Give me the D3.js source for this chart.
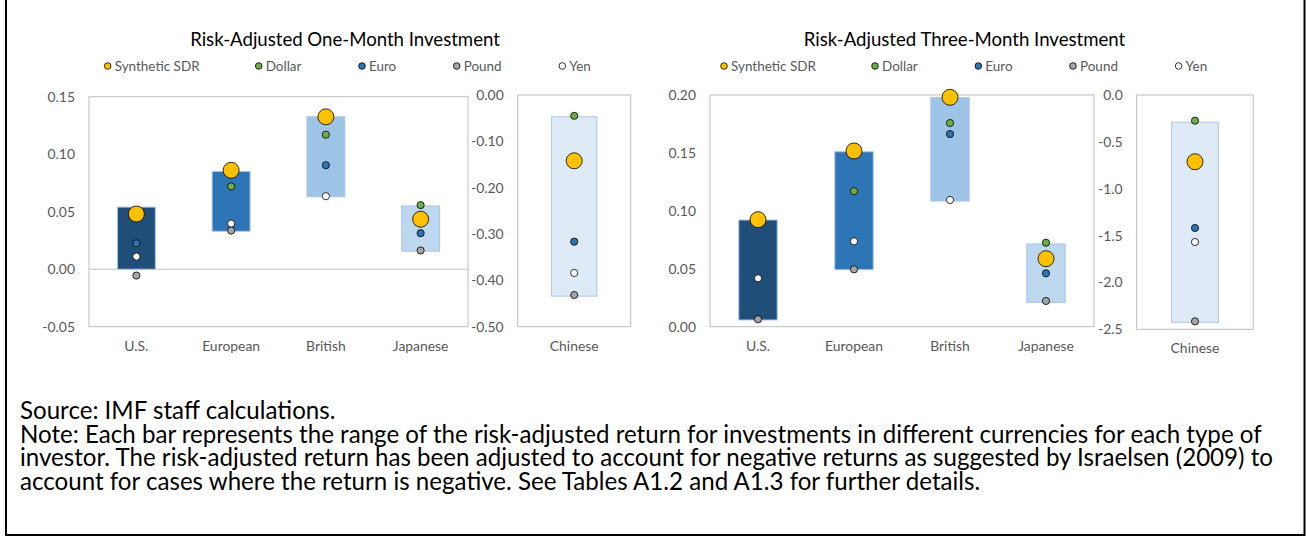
<!DOCTYPE html>
<html>
<head>
<meta charset="utf-8">
<script src="https://cdn.jsdelivr.net/npm/d3@7"></script>
<style>
  body { margin: 0; background: #fff; }
  svg text { font-family: Lato, "Open Sans", sans-serif; }
</style>
</head>
<body>
<div id="chart"></div>
<script>
// categories (investor type)
var mainCats = ["U.S.", "European", "British", "Japanese"];
var sideCat = ["Chinese"];
var seriesNames = ["Synthetic SDR", "Dollar", "Euro", "Pound", "Yen"];

// one-month values: U.S., European, British, Japanese, Chinese
var barHigh1 = [0.054, 0.085, 0.1325, 0.055, -0.047];
var barLow1  = [0.000, 0.033, 0.063, 0.0157, -0.434];
var sdr1     = [0.048, 0.086, 0.1325, 0.0435, -0.142];
var dollar1  = [null, 0.072, 0.117, 0.0557, -0.045];
var euro1    = [0.0226, null, 0.0904, 0.0313, -0.3165];
var pound1   = [-0.0055, 0.0336, null, 0.0163, -0.4316];
var yen1     = [0.011, 0.0397, 0.0635, null, -0.384];

// three-month values
var barHigh3 = [0.0921, 0.151, 0.1977, 0.0714, -0.291];
var barLow3  = [0.0058, 0.0492, 0.1085, 0.021, -2.425];
var sdr3     = [0.0924, 0.1517, 0.198, 0.0587, -0.712];
var dollar3  = [null, 0.117, 0.1758, 0.0725, -0.274];
var euro3    = [null, null, 0.1663, 0.0461, -1.419];
var pound3   = [0.0064, 0.0495, null, 0.0222, -2.415];
var yen3     = [0.0418, 0.0737, 0.1094, null, -1.569];

// tick values
var ticksLeft1 = [-0.05, 0, 0.05, 0.10, 0.15];
var ticksRight1 = [0, -0.1, -0.2, -0.3, -0.4, -0.5];
var ticksLeft3 = [0, 0.05, 0.10, 0.15, 0.20];
var ticksRight3 = [0, -0.5, -1.0, -1.5, -2.0, -2.5];

var titles = ["Risk-Adjusted One-Month Investment", "Risk-Adjusted Three-Month Investment"];
var noteLines = [
  "Source: IMF staff calculations.",
  "Note: Each bar represents the range of the risk-adjusted return for investments in different currencies for each type of",
  "investor. The risk-adjusted return has been adjusted to account for negative returns as suggested by Israelsen (2009) to",
  "account for cases where the return is negative. See Tables A1.2 and A1.3 for further details."
];

var barColors = ["#1F4E79", "#2E75B6", "#9DC3E6", "#BDD7EE", "#DEEBF7"];
var dotColors = ["#FFC000", "#70AD47", "#2E75B6", "#A5A5A5", "#FFFFFF"];
var textGray = "#595959";
var frameGray = "#BFBFBF";
var chartFont = "Lato, 'Open Sans', sans-serif";
var noteFont = "Lato, 'Noto Sans', sans-serif";

var W = 1306, H = 537;
var svg = d3.select("#chart").append("svg")
  .attr("width", W)
  .attr("height", H);

function fmt(p) {
  var f = d3.format(p);
  return function (d) { return f(d).replace("\u2212", "-"); };
}

// fit text to target width by scaling its font size
function fitSize(txt, base, target, family) {
  var t = svg.append("text")
    .style("font-size", base + "px")
    .style("font-family", family)
    .text(txt);
  var w = t.node().getComputedTextLength();
  t.remove();
  return base * target / w;
}

function drawPanel(cfg) {
  var g = svg.append("g");

  // title
  g.append("text")
    .attr("x", cfg.titleX)
    .attr("y", 46)
    .attr("text-anchor", "middle")
    .style("font-size", cfg.titleSize + "px")
    .style("fill", "#000")
    .text(cfg.title);

  // legend
  seriesNames.forEach(function (s, i) {
    var lx = cfg.legendX + cfg.legendOff[i];
    g.append("circle")
      .attr("cx", lx).attr("cy", 66).attr("r", 3.3)
      .attr("fill", dotColors[i]).attr("stroke", "#000").attr("stroke-width", 0.8);
    g.append("text")
      .attr("x", lx + 7).attr("y", 70.5)
      .style("font-size", cfg.legendSize + "px")
      .style("fill", textGray)
      .text(s);
  });

  // main plot
  var x = d3.scaleBand().domain(mainCats).range([cfg.mx0, cfg.mx1]);
  var y = d3.scaleLinear().domain(cfg.mDomain).range([cfg.mBottom, cfg.mTop]);
  // side plot (Chinese)
  var xs = d3.scaleBand().domain(sideCat).range([cfg.sx0, cfg.sx1]);
  var ys = d3.scaleLinear().domain(cfg.sDomain).range([cfg.sBottom, cfg.sTop]);

  [[x, y, cfg.mTicks, cfg.mFmt, cfg.mBottom, mainCats, 0],
   [xs, ys, cfg.sTicks, cfg.sFmt, cfg.sBottom, sideCat, 4]].forEach(function (p) {
    var xx = p[0], yy = p[1], cats = p[5], off = p[6];
    var r = xx.range();

    g.append("rect")
      .attr("x", r[0]).attr("y", yy.range()[1])
      .attr("width", r[1] - r[0]).attr("height", yy.range()[0] - yy.range()[1])
      .attr("fill", "none").attr("stroke", frameGray).attr("stroke-width", 1);

    var ya = g.append("g")
      .attr("transform", "translate(" + r[0] + ",0)")
      .call(d3.axisLeft(yy).tickValues(p[2]).tickFormat(fmt(p[3])).tickSize(0).tickPadding(14));
    ya.select(".domain").remove();
    ya.selectAll("text").style("font-size", cfg.tickSize + "px").style("fill", textGray)
      .style("font-family", chartFont);

    // zero line when zero is inside the domain
    var dm = yy.domain();
    if (Math.min(dm[0], dm[1]) < 0 && Math.max(dm[0], dm[1]) > 0) {
      g.append("line")
        .attr("x1", r[0]).attr("x2", r[1])
        .attr("y1", yy(0)).attr("y2", yy(0))
        .attr("stroke", frameGray).attr("stroke-width", 1);
    }

    var xa = g.append("g")
      .attr("transform", "translate(0," + p[4] + ")")
      .call(d3.axisBottom(xx).tickSize(0).tickPadding(14));
    xa.select(".domain").remove();
    xa.selectAll("text").style("font-size", cfg.tickSize + "px").style("fill", textGray)
      .style("font-family", chartFont);

    var bw = xx.bandwidth() * 0.4;

    // range bars
    cats.forEach(function (c, j) {
      var i = j + off;
      g.append("rect")
        .attr("x", xx(c) + xx.bandwidth() / 2 - bw / 2)
        .attr("y", yy(cfg.hi[i]))
        .attr("width", bw)
        .attr("height", yy(cfg.lo[i]) - yy(cfg.hi[i]))
        .attr("fill", barColors[i])
        .attr("stroke", "#A9C4EB").attr("stroke-width", 1);
    });

    // currency points
    cfg.series.forEach(function (vals, k) {
      cats.forEach(function (c, j) {
        var v = vals[j + off];
        if (v === null) return;
        g.append("circle")
          .attr("cx", xx(c) + xx.bandwidth() / 2)
          .attr("cy", yy(v))
          .attr("r", k === 0 ? 8 : 3.6)
          .attr("fill", dotColors[k])
          .attr("stroke", "#000").attr("stroke-width", 0.8);
      });
    });
  });
}

var titleSize = fitSize(titles[0], 16, 310, chartFont);
var legendSize = fitSize("Synthetic SDR", 13, 85, chartFont);
var tickSize = fitSize("European", 13, 58, chartFont);

var legendOff = [0, 151, 254.3, 349, 454.6];

drawPanel({
  title: titles[0], titleX: 345, titleSize: titleSize,
  legendX: 107.7, legendOff: legendOff, legendSize: legendSize, tickSize: tickSize,
  mx0: 89, mx1: 468, mTop: 96.7, mBottom: 326.7, mDomain: [-0.05, 0.15], mTicks: ticksLeft1, mFmt: ".2f",
  sx0: 517.7, sx1: 630.7, sTop: 95, sBottom: 326.7, sDomain: [-0.5, 0], sTicks: ticksRight1, sFmt: ".2f",
  hi: barHigh1, lo: barLow1,
  series: [sdr1, dollar1, euro1, pound1, yen1]
});

drawPanel({
  title: titles[1], titleX: 964.5, titleSize: titleSize,
  legendX: 724, legendOff: legendOff, legendSize: legendSize, tickSize: tickSize,
  mx0: 710, mx1: 1094, mTop: 95, mBottom: 326.7, mDomain: [0, 0.2], mTicks: ticksLeft3, mFmt: ".2f",
  sx0: 1136.7, sx1: 1253.3, sTop: 95, sBottom: 329.3, sDomain: [-2.5, 0], sTicks: ticksRight3, sFmt: ".1f",
  hi: barHigh3, lo: barLow3,
  series: [sdr3, dollar3, euro3, pound3, yen3]
});

// source and note text
var noteSize = fitSize(noteLines[1], 20, 1242, noteFont);
noteLines.forEach(function (line, i) {
  svg.append("text")
    .attr("x", 20)
    .attr("y", 419 + i * 23.6)
    .style("font-size", noteSize + "px")
    .style("font-family", noteFont)
    .style("fill", "#000")
    .text(line);
});

// outer frame
svg.append("rect")
  .attr("x", 6).attr("y", -5)
  .attr("width", 1298.5).attr("height", 540)
  .attr("fill", "none").attr("stroke", "#000").attr("stroke-width", 2);
</script>
</body>
</html>
